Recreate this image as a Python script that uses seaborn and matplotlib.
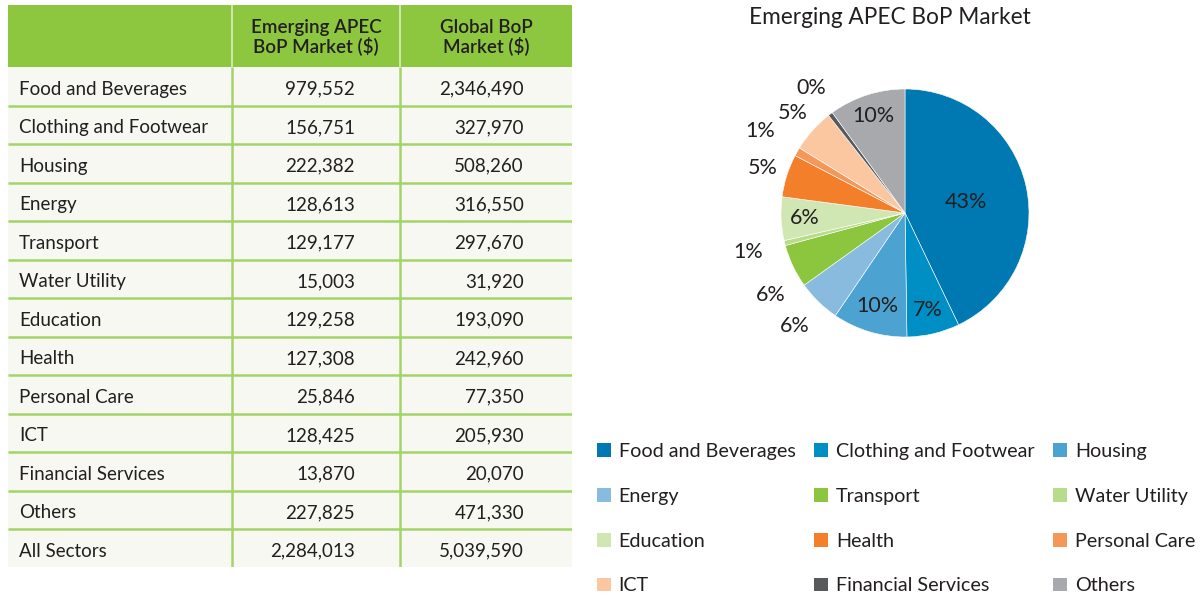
import matplotlib
matplotlib.use("Agg")
import matplotlib.pyplot as plt
from matplotlib.patches import Patch
import numpy as np
import pandas as pd
import seaborn as sns

# data
sectors = ["Food and Beverages", "Clothing and Footwear", "Housing", "Energy",
           "Transport", "Water Utility", "Education", "Health", "Personal Care",
           "ICT", "Financial Services", "Others"]
apec_market = [979552, 156751, 222382, 128613, 129177, 15003, 129258, 127308,
               25846, 128425, 13870, 227825]
global_market = [2346490, 327970, 508260, 316550, 297670, 31920, 193090, 242960,
                 77350, 205930, 20070, 471330]
total_name = "All Sectors"
apec_total = 2284013
global_total = 5039590
pie_labels = ["43%", "7%", "10%", "6%", "6%", "1%", "6%", "5%", "1%", "5%", "0%", "10%"]
header = ["", "Emerging APEC\nBoP Market ($)", "Global BoP\nMarket ($)"]
pie_title = "Emerging APEC BoP Market"

colors = ["#0079b3", "#008fc5", "#4ca3d2", "#88bbde", "#8cc63f", "#b8dc8c",
          "#d0e6b3", "#f47f2b", "#f6975a", "#fbc7a0", "#58595b", "#a7a9ac"]

df = pd.DataFrame({"sector": sectors + [total_name],
                   "apec": apec_market + [apec_total],
                   "glob": global_market + [global_total]})

sns.set_theme(style="white")
plt.rcParams["font.family"] = ["Lato", "DejaVu Sans"]
TXT = "#231f20"

fig = plt.figure(figsize=(12.03, 5.97), dpi=100)
W, H = 1203, 597


def px_axes(x0, y0, w, h):
    return fig.add_axes([x0 / W, 1 - (y0 + h) / H, w / W, h / H])


# ---- table ----
ax_t = px_axes(8, 5, 564, 562)
ax_t.set_xlim(0, 564)
ax_t.set_ylim(562, 0)
ax_t.axis("off")
head_h = 62
row_h = 38.5
col_x = [0, 224, 392, 564]
green = "#8dc63f"
line_green = "#a3d46a"

ax_t.axhspan(0, head_h, color=green, lw=0)
ax_t.axhspan(head_h, 562, color="#f6f8f1", lw=0)
for x in col_x[1:3]:
    ax_t.vlines(x, 0, head_h, color="#d9ecc2", lw=1.2)
    ax_t.vlines(x, head_h, 562, color=line_green, lw=1.8)
for j in (1, 2):
    ax_t.text((col_x[j] + col_x[j + 1]) / 2, head_h / 2 + 1, header[j],
              ha="center", va="center", fontsize=13.5, fontweight="semibold",
              color=TXT, linespacing=1.05)

for i, r in df.iterrows():
    yc = head_h + row_h * (i + 0.5) + 3
    ax_t.hlines(head_h + row_h * (i + 1), 0, 564, color=line_green, lw=1.8)
    ax_t.text(11, yc, r["sector"], ha="left", va="center", fontsize=13.5, color=TXT)
    ax_t.text(347, yc, f"{r['apec']:,}", ha="right", va="center", fontsize=13.5, color=TXT)
    ax_t.text(516, yc, f"{r['glob']:,}", ha="right", va="center", fontsize=13.5, color=TXT)

# ---- pie ----
ax_p = px_axes(750, 58, 310, 310)
wedges, _ = ax_p.pie(apec_market, colors=colors, startangle=90, counterclock=False,
                     wedgeprops=dict(edgecolor="white", linewidth=0.4))
dists = [0.5, 0.8, 0.78, 1.27, 1.27, 1.3, 0.81, 1.2, 1.34, 1.21, 1.26, 0.82]
shifts = [-3, 0, 0, 0, 6, 0, 0, 0, 0, 0, 0, 0]
for w, lab, d, s in zip(wedges, pie_labels, dists, shifts):
    ang = np.deg2rad((w.theta1 + w.theta2) / 2 + s)
    ax_p.text(d * np.cos(ang), d * np.sin(ang), lab, ha="center", va="center",
              fontsize=15.5, color=TXT)

fig.text(890 / W, 1 - 18 / H, pie_title, ha="center", va="center", fontsize=16.3, color=TXT)

# ---- legend (row-wise order) ----
order = [0, 3, 6, 9, 1, 4, 7, 10, 2, 5, 8, 11]
handles = [Patch(facecolor=colors[k], edgecolor="none") for k in order]
labels = [sectors[k] for k in order]
fig.legend(handles, labels, loc="upper left", bbox_to_anchor=(597 / W, 1 - 443 / H),
           ncol=3, frameon=False, fontsize=14.2, handlelength=0.7, handleheight=0.7,
           handletextpad=0.4, columnspacing=0.95, labelspacing=1.41, borderpad=0,
           borderaxespad=0, labelcolor=TXT)

fig.savefig("out.png", dpi=100)
